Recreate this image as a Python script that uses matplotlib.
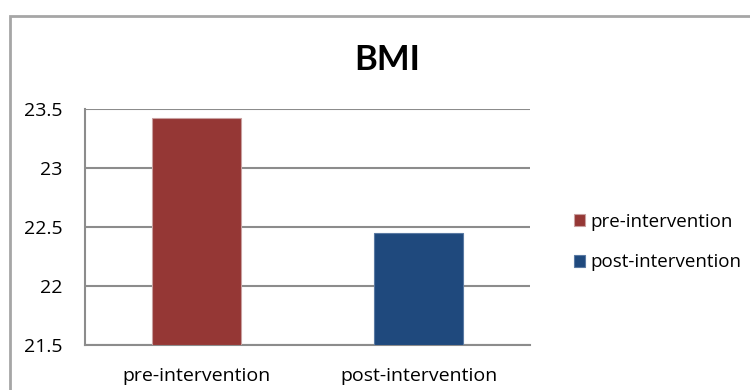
import matplotlib.pyplot as plt
from matplotlib.patches import Rectangle

categories = ['pre-intervention', 'post-intervention']
bmi_values = [23.42, 22.45]
y_ticks = [21.5, 22, 22.5, 23, 23.5]
y_tick_labels = ['21.5', '22', '22.5', '23', '23.5']
bar_colors = ['#953735', '#1F497D']
edge_colors = ['#c9a0a0', '#5a7aa3']

plt.rcParams['font.family'] = ['Open Sans', 'DejaVu Sans']

fig = plt.figure(figsize=(7.5, 3.9), dpi=100)
ax = fig.add_axes([85 / 750, 1 - 345 / 390, 445 / 750, 236 / 390])

x = list(range(len(categories)))
ax.bar(x, [v - y_ticks[0] for v in bmi_values], bottom=y_ticks[0], width=0.4,
       color=bar_colors, edgecolor=edge_colors, linewidth=0.8, zorder=3)

ax.set_xlim(-0.5, 1.5)
ax.set_ylim(y_ticks[0], y_ticks[-1])
ax.set_yticks(y_ticks)
ax.set_yticklabels(y_tick_labels, fontsize=14)
ax.set_xticks(x)
ax.set_xticklabels(categories, fontsize=14)
ax.tick_params(axis='y', length=0, pad=16)
ax.tick_params(axis='x', length=0, pad=16)

ax.yaxis.grid(True, color='#8c8c8c', linewidth=1.5, zorder=0)
ax.set_axisbelow(True)
for side in ['top', 'right']:
    ax.spines[side].set_visible(False)
for side in ['left', 'bottom']:
    ax.spines[side].set_color('#8c8c8c')
    ax.spines[side].set_linewidth(1.5)

fig.text(387 / 750, 1 - 60 / 390, 'BMI', fontsize=25, fontweight='bold',
         family=['Lato', 'DejaVu Sans'], ha='center', va='center')

# legend
handles = [Rectangle((0, 0), 1, 1, facecolor=c, edgecolor=e, linewidth=0.8)
           for c, e in zip(bar_colors, edge_colors)]
fig.legend(handles, categories, loc='center left',
           bbox_to_anchor=(566 / 750, 1 - 242 / 390), frameon=False,
           fontsize=13.5, handlelength=0.6, handleheight=0.6,
           handletextpad=0.3, labelspacing=1.2, borderaxespad=0)

# outer chart frame
fig.add_artist(Rectangle((10 / 750, -0.2), 1.2, 1 - 16 / 390 + 0.2,
                         transform=fig.transFigure, fill=False,
                         edgecolor='#a6a6a6', linewidth=2))

fig.savefig('out.png', dpi=100)
